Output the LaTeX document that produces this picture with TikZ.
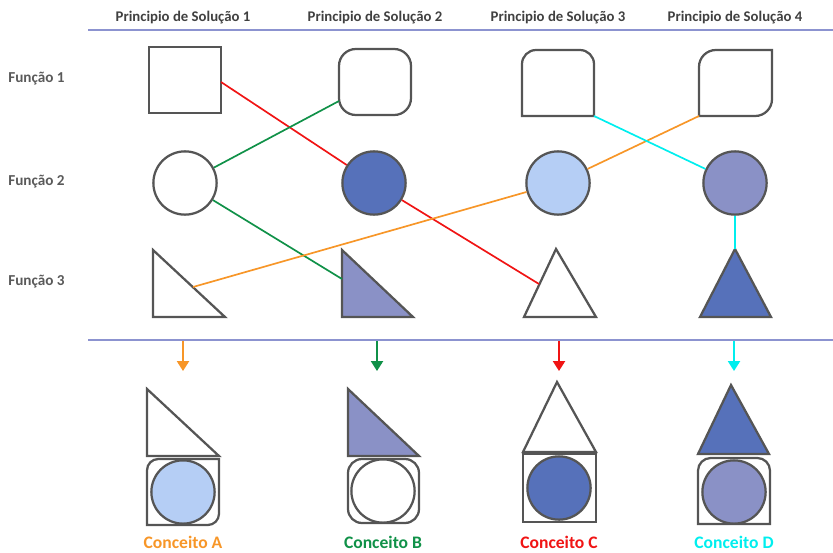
\documentclass[tikz,border=0pt]{standalone}
\usepackage{fontspec}
\setmainfont{Carlito}
\usetikzlibrary{arrows.meta}

\definecolor{outline}{RGB}{85,85,85}
\definecolor{sepline}{RGB}{140,147,208}
\definecolor{navy}{RGB}{86,113,186}
\definecolor{lavender}{RGB}{138,145,198}
\definecolor{skyblue}{RGB}{181,206,245}
\definecolor{lnred}{RGB}{240,20,20}
\definecolor{lngreen}{RGB}{16,145,72}
\definecolor{lnorange}{RGB}{247,150,40}
\definecolor{lncyan}{RGB}{0,238,238}
\definecolor{headgray}{RGB}{64,64,64}
\definecolor{rowgray}{RGB}{90,90,90}

\begin{document}
\begin{tikzpicture}[x=0.025cm,y=-0.025cm,
  shp/.style={draw=outline,line width=1.6pt},
  ball/.style={circle,shp,minimum size=45pt,inner sep=0pt},
  link/.style={line width=1.2pt},
  sep/.style={draw=sepline,line width=1.8pt},
  head/.style={font=\bfseries\fontsize{10.5}{12}\selectfont,text=headgray},
  row/.style={font=\bfseries\fontsize{10.8}{12}\selectfont,text=rowgray,anchor=west,inner sep=0pt},
  concept/.style={font=\bfseries\fontsize{12.5}{14}\selectfont,inner sep=1pt},
  drop/.style={-{Triangle[length=7pt,width=8.5pt]},line width=1.4pt}]
  \useasboundingbox (0,0) rectangle (833,552);

  % headings and separators
  \foreach \x/\n in {183/1,375/2,558/3,735/4}
    \node[head] (ps\n) at (\x,18) {Principio de Solução \n};
  \node[row] (f1) at (8,79) {Função 1};
  \node[row] (f2) at (8,182) {Função 2};
  \node[row] (f3) at (8,282) {Função 3};
  \draw[sep] (88,30) -- (833,30);
  \draw[sep] (88,340) -- (833,340);

  % function 1: boxes
  \draw[shp] (149,47) rectangle (221,113);
  \draw[shp,rounded corners=12] (339,49) rectangle (411,115);
  \draw[shp] (522,116) [rounded corners=10] -- (522,50) -- (594,50) [sharp corners] -- (594,116) -- cycle;
  \draw[shp] (699,116) [rounded corners=12] -- (699,50) [sharp corners] -- (772,50)
    [rounded corners=12] -- (772,116) [sharp corners] -- cycle;

  % function 2: circles
  \node[ball,fill=white] (ci1) at (185,183) {};
  \node[ball,fill=navy] (ci2) at (374,183) {};
  \node[ball,fill=skyblue] (ci3) at (558,183) {};
  \node[ball,fill=lavender] (ci4) at (735,183) {};

  % function 3: triangles
  \draw[shp,fill=white] (153,250) -- (225,317) -- (153,317) -- cycle;
  \draw[shp,fill=lavender] (342,250) -- (413,317) -- (342,317) -- cycle;
  \draw[shp,fill=white] (556,249) -- (596,317) -- (524,317) -- cycle;
  \draw[shp,fill=navy] (735,249) -- (771,317) -- (700,317) -- cycle;

  % where the links meet the outlines
  \coordinate (sq1e) at (221,82);
  \coordinate (rs2w) at (339,101);
  \coordinate (rs3c) at (594,116);
  \coordinate (rs4c) at (699,116);
  \coordinate (tr1h) at (193,287);
  \coordinate (tr2w) at (342,279);
  \coordinate (tr3w) at (539,284);
  \coordinate (tr4t) at (735,249);

  \draw[link,lnred] (sq1e) -- (ci2) -- (tr3w);
  \draw[link,lngreen] (rs2w) -- (ci1) -- (tr2w);
  \draw[link,lnorange] (tr1h) -- (ci3) -- (rs4c);
  \draw[link,lncyan] (rs3c) -- (ci4) -- (tr4t);

  % arrows down to the concepts
  \foreach \x/\c/\n in {183/lnorange/A,377/lngreen/B,559/lnred/C,734/lncyan/D} {
    \coordinate (top\n) at (\x,341);
    \coordinate (tip\n) at (\x,371);
    \draw[drop,\c] (top\n) -- (tip\n);
  }

  % concept A
  \draw[shp,fill=white] (147,389) -- (219,456) -- (147,456) -- cycle;
  \draw[shp] (147,525) [rounded corners=8] -- (147,459) [sharp corners] -- (219,459)
    [rounded corners=8] -- (219,525) [sharp corners] -- cycle;
  \node[ball,fill=skyblue] (kA) at (183,492) {};
  \node[concept,text=lnorange] (cA) at (183,542) {Conceito A};

  % concept B
  \draw[shp,fill=lavender] (348,389) -- (419,456) -- (348,456) -- cycle;
  \draw[shp,rounded corners=10] (348,459) rectangle (419,523);
  \node[ball,fill=white] (kB) at (383,491) {};
  \node[concept,text=lngreen] (cB) at (383,542) {Conceito B};

  % concept C
  \draw[shp,fill=white] (557,382) -- (596,452) -- (523,452) -- cycle;
  \draw[shp] (523,454) rectangle (596,522);
  \node[ball,fill=navy] (kC) at (559,488) {};
  \node[concept,text=lnred] (cC) at (559,542) {Conceito C};

  % concept D
  \draw[shp,fill=navy] (731,385) -- (769,454) -- (698,454) -- cycle;
  \draw[shp] (698,524) [rounded corners=9] -- (698,458) -- (770,458) [sharp corners] -- (770,524) -- cycle;
  \node[ball,fill=lavender] (kD) at (734,492) {};
  \node[concept,text=lncyan] (cD) at (734,542) {Conceito D};
\end{tikzpicture}
\end{document}
